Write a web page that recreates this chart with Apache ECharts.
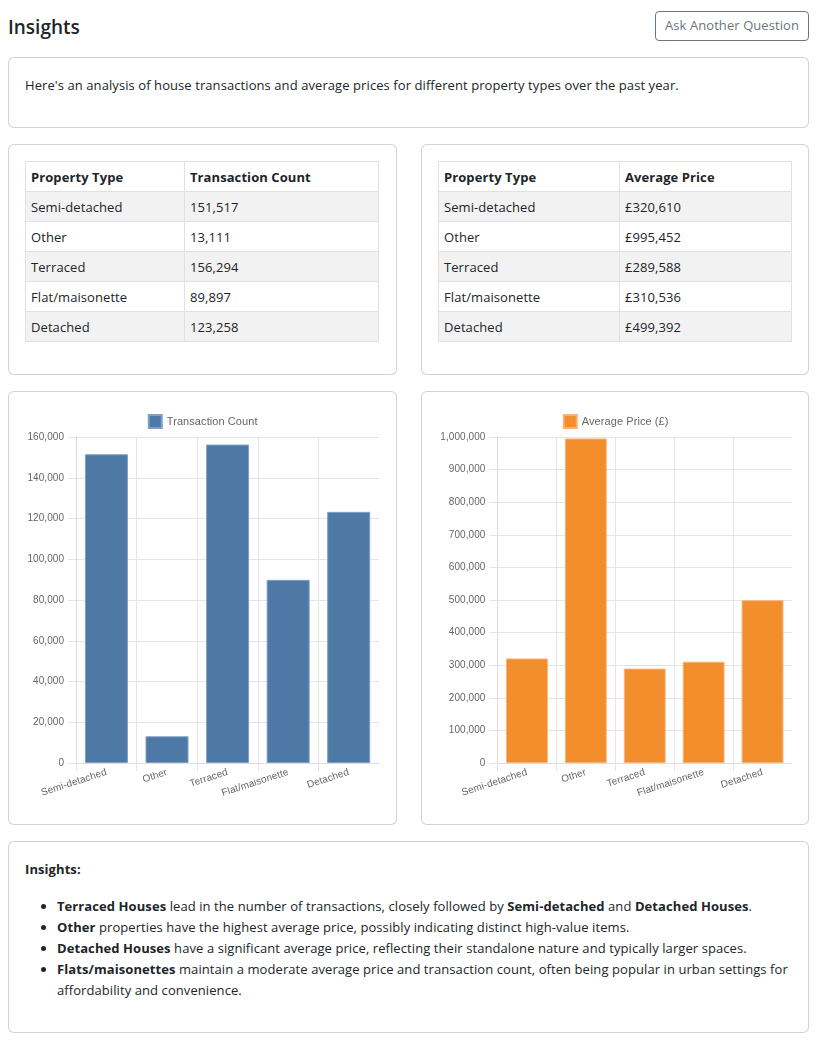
<!DOCTYPE html>
<html>
<head>
<meta charset="utf-8">
<script src="https://cdn.jsdelivr.net/npm/echarts@6/dist/echarts.min.js"></script>
<style>
  html, body { margin: 0; padding: 0; background: #fff; }
  body { width: 819px; height: 1050px; position: relative; font-family: "Segoe UI", "Open Sans", sans-serif; color: #212529; font-size: 13px; letter-spacing: 0.08px; }
  .abs { position: absolute; box-sizing: border-box; }
  .card { border: 1px solid rgba(0,0,0,0.175); border-radius: 6px; background: #fff; }
  h2 { margin: 0; font-size: 19px; font-weight: 600; line-height: 24px; letter-spacing: 0; }
  .btn { border: 1px solid #6c757d; border-radius: 4px; color: #6c757d; font-size: 13px; text-align: center; line-height: 27px; }
  table { border-collapse: collapse; width: 354px; font-size: 13px; }
  td, th { border: 1px solid #dee2e6; height: 30px; padding: 0 5px; text-align: left; box-sizing: border-box; }
  th { font-weight: 700; }
  tbody tr:nth-child(odd) td { background: #f2f2f2; }
  ul { margin: 0; padding-left: 32px; }
  li { line-height: 21px; }
</style>
</head>
<body>
<h2 class="abs" style="left:8px; top:15px;">Insights</h2>
<div class="abs btn" style="left:655px; top:11px; width:154px; height:30px;">Ask Another Question</div>

<div class="abs card" style="left:8px; top:57px; width:801px; height:71px;">
  <div class="abs" style="left:16px; top:17px; line-height:20px;">Here's an analysis of house transactions and average prices for different property types over the past year.</div>
</div>

<div class="abs card" style="left:8px; top:144px; width:389px; height:231px;"></div>
<div class="abs card" style="left:421px; top:144px; width:388px; height:231px;"></div>
<div class="abs" style="left:25px; top:161px;"><table id="t1"></table></div>
<div class="abs" style="left:438px; top:161px;"><table id="t2"></table></div>

<div class="abs card" style="left:8px; top:391px; width:389px; height:434px;"></div>
<div class="abs card" style="left:421px; top:391px; width:388px; height:434px;"></div>
<div id="c1" class="abs" style="left:25px; top:408px; width:354px; height:399px;"></div>
<div id="c2" class="abs" style="left:438px; top:408px; width:354px; height:399px;"></div>

<div class="abs card" style="left:8px; top:841px; width:801px; height:192px;">
  <div class="abs" style="left:16px; top:17px; font-weight:700; line-height:21px;">Insights:</div>
  <div class="abs" style="left:16px; top:54px; width:768px;">
    <ul>
      <li><b>Terraced Houses</b> lead in the number of transactions, closely followed by <b>Semi-detached</b> and <b>Detached Houses</b>.</li>
      <li><b>Other</b> properties have the highest average price, possibly indicating distinct high-value items.</li>
      <li><b>Detached Houses</b> have a significant average price, reflecting their standalone nature and typically larger spaces.</li>
      <li><b>Flats/maisonettes</b> maintain a moderate average price and transaction count, often being popular in urban settings for affordability and convenience.</li>
    </ul>
  </div>
</div>

<script>
const categories = ["Semi-detached", "Other", "Terraced", "Flat/maisonette", "Detached"];
const transactionCounts = [151517, 13111, 156294, 89897, 123258];
const averagePrices = [320610, 995452, 289588, 310536, 499392];
const countTicks = { min: 0, max: 160000, interval: 20000 };
const priceTicks = { min: 0, max: 1000000, interval: 100000 };

function fmt(n) { return n.toLocaleString('en-GB'); }

function buildTable(id, header, values, prefix) {
  let html = '<thead><tr><th>Property Type</th><th>' + header + '</th></tr></thead><tbody>';
  categories.forEach((c, i) => {
    html += '<tr><td>' + c + '</td><td>' + prefix + fmt(values[i]) + '</td></tr>';
  });
  html += '</tbody>';
  document.getElementById(id).innerHTML = html;
}
buildTable('t1', 'Transaction Count', transactionCounts, '');
buildTable('t2', 'Average Price', averagePrices, '£');
document.getElementById('t1').querySelectorAll('tr').forEach(r => { r.children[0].style.width = '159px'; });
document.getElementById('t2').querySelectorAll('tr').forEach(r => { r.children[0].style.width = '181px'; });

function makeChart(el, name, values, ticks, color, border, left) {
  const chart = echarts.init(document.getElementById(el), null, { renderer: 'canvas' });
  const gridColor = '#e5e5e5';
  const ff = 'Liberation Sans, Arial, sans-serif';
  chart.setOption({
    animation: false,
    textStyle: { fontFamily: ff, color: '#666' },
    legend: {
      top: 1, left: 'center', itemWidth: 13, itemHeight: 13, itemGap: 10, icon: 'rect',
      textStyle: { fontSize: 11, color: '#666', fontFamily: ff },
      data: [name]
    },
    grid: { left: left, right: 0, top: 29, bottom: 44 },
    xAxis: {
      type: 'category', data: categories, boundaryGap: true,
      axisLine: { show: true, lineStyle: { color: '#ddd' } },
      axisTick: { show: true, length: 8, lineStyle: { color: gridColor } },
      splitLine: { show: true, lineStyle: { color: gridColor } },
      axisLabel: { rotate: 18, fontSize: 10, color: '#666', margin: 9, interval: 0, fontFamily: ff }
    },
    yAxis: {
      type: 'value', min: ticks.min, max: ticks.max, interval: ticks.interval,
      axisLine: { show: true, lineStyle: { color: '#ddd' } },
      axisTick: { show: true, length: 8, lineStyle: { color: gridColor } },
      splitLine: { show: true, lineStyle: { color: gridColor } },
      axisLabel: { fontSize: 10, color: '#666', margin: 12, fontFamily: ff, formatter: v => fmt(v) }
    },
    series: [{
      name: name, type: 'bar', data: values, barWidth: '71%',
      itemStyle: { color: color, borderColor: border, borderWidth: 1 }
    }]
  });
}
makeChart('c1', 'Transaction Count', transactionCounts, countTicks, '#4e79a7', '#7fa0c6', 50);
makeChart('c2', 'Average Price (£)', averagePrices, priceTicks, '#f28e2b', '#f7b27a', 58);
</script>
</body>
</html>
